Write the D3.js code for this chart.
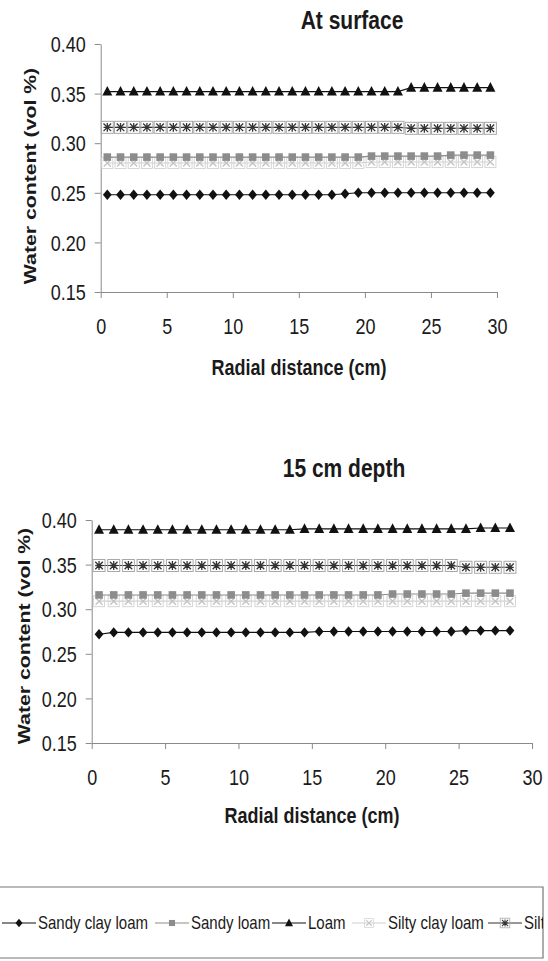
<!DOCTYPE html>
<html>
<head>
<meta charset="utf-8">
<script src="https://cdn.jsdelivr.net/npm/d3@7"></script>
<style>
  body { margin: 0; background: #fff; }
  svg { display: block; font-family: "Liberation Sans", Arial, sans-serif; }
</style>
</head>
<body>
<svg id="chart" width="548" height="961"></svg>
<script>
// radial distances (cm) of the sampling points
const distTop = [0.5, 1.5, 2.5, 3.5, 4.5, 5.5, 6.5, 7.5, 8.5, 9.5, 10.5, 11.5, 12.5, 13.5, 14.5,
  15.5, 16.5, 17.5, 18.5, 19.5, 20.5, 21.5, 22.5, 23.5, 24.5, 25.5, 26.5, 27.5, 28.5, 29.5];
const distBottom = [0.5, 1.5, 2.5, 3.5, 4.5, 5.5, 6.5, 7.5, 8.5, 9.5, 10.5, 11.5, 12.5, 13.5, 14.5,
  15.5, 16.5, 17.5, 18.5, 19.5, 20.5, 21.5, 22.5, 23.5, 24.5, 25.5, 26.5, 27.5, 28.5];

const soils = ["Sandy clay loam", "Sandy loam", "Loam", "Silty clay loam", "Silt"];

// At surface
const sandyClayLoamTop = [0.248, 0.248, 0.248, 0.248, 0.248, 0.248, 0.248, 0.248, 0.248, 0.248, 0.248, 0.248, 0.248, 0.248, 0.248,
  0.248, 0.248, 0.248, 0.249, 0.250, 0.250, 0.250, 0.250, 0.250, 0.250, 0.250, 0.250, 0.250, 0.250, 0.250];
const sandyLoamTop = [0.286, 0.286, 0.286, 0.286, 0.286, 0.286, 0.286, 0.286, 0.286, 0.286, 0.286, 0.286, 0.286, 0.286, 0.286,
  0.286, 0.286, 0.286, 0.286, 0.286, 0.287, 0.287, 0.287, 0.287, 0.287, 0.287, 0.288, 0.288, 0.288, 0.288];
const loamTop = [0.352, 0.352, 0.352, 0.352, 0.352, 0.352, 0.352, 0.352, 0.352, 0.352, 0.352, 0.352, 0.352, 0.352, 0.352,
  0.352, 0.352, 0.352, 0.352, 0.352, 0.352, 0.352, 0.352, 0.356, 0.356, 0.356, 0.356, 0.356, 0.356, 0.356];
const siltyClayLoamTop = [0.280, 0.280, 0.280, 0.280, 0.280, 0.280, 0.280, 0.280, 0.280, 0.280, 0.280, 0.280, 0.280, 0.280, 0.280,
  0.280, 0.280, 0.280, 0.280, 0.280, 0.281, 0.281, 0.281, 0.281, 0.281, 0.281, 0.281, 0.281, 0.281, 0.281];
const siltTop = [0.316, 0.316, 0.316, 0.316, 0.316, 0.316, 0.316, 0.316, 0.316, 0.316, 0.316, 0.316, 0.316, 0.316, 0.316,
  0.316, 0.316, 0.316, 0.316, 0.316, 0.316, 0.316, 0.316, 0.315, 0.315, 0.315, 0.315, 0.315, 0.315, 0.315];

// 15 cm depth
const sandyClayLoamBottom = [0.272, 0.274, 0.274, 0.274, 0.274, 0.274, 0.274, 0.274, 0.274, 0.274, 0.274, 0.274, 0.274, 0.274, 0.274,
  0.275, 0.275, 0.275, 0.275, 0.275, 0.275, 0.275, 0.275, 0.275, 0.275, 0.276, 0.276, 0.276, 0.276];
const sandyLoamBottom = [0.316, 0.316, 0.316, 0.316, 0.316, 0.316, 0.316, 0.316, 0.316, 0.316, 0.316, 0.316, 0.316, 0.316, 0.316,
  0.316, 0.316, 0.316, 0.316, 0.316, 0.317, 0.317, 0.317, 0.317, 0.317, 0.318, 0.318, 0.318, 0.318];
const loamBottom = [0.389, 0.389, 0.389, 0.389, 0.389, 0.389, 0.389, 0.389, 0.389, 0.389, 0.389, 0.389, 0.389, 0.389, 0.390,
  0.390, 0.390, 0.390, 0.390, 0.390, 0.390, 0.390, 0.390, 0.390, 0.390, 0.390, 0.391, 0.391, 0.391];
const siltyClayLoamBottom = [0.309, 0.309, 0.309, 0.309, 0.309, 0.309, 0.309, 0.309, 0.309, 0.309, 0.309, 0.309, 0.309, 0.309, 0.309,
  0.309, 0.309, 0.309, 0.309, 0.309, 0.309, 0.309, 0.309, 0.309, 0.309, 0.309, 0.309, 0.309, 0.309];
const siltBottom = [0.349, 0.349, 0.349, 0.349, 0.349, 0.349, 0.349, 0.349, 0.349, 0.349, 0.349, 0.349, 0.349, 0.349, 0.349,
  0.349, 0.349, 0.349, 0.349, 0.349, 0.349, 0.349, 0.349, 0.349, 0.349, 0.347, 0.347, 0.347, 0.347];

const xTicks = [0, 5, 10, 15, 20, 25, 30];
const yTicks = [0.15, 0.20, 0.25, 0.30, 0.35, 0.40];

const S = 1.25; // the scanned figure is stretched vertically, text too
const svg = d3.select("#chart");

// marker painters, one per soil
const markers = {
  "Sandy clay loam": g => g.append("path").attr("d", "M0,-5.2L4.4,0L0,5.2L-4.4,0Z").attr("fill", "#111"),
  "Sandy loam": g => g.append("rect").attr("x", -3.8).attr("y", -3.8).attr("width", 7.6).attr("height", 7.6).attr("fill", "#8c8c8c"),
  "Loam": g => g.append("path").attr("d", "M0,-5.6L5,4L-5,4Z").attr("fill", "#111"),
  "Silty clay loam": g => {
    g.append("rect").attr("x", -5.5).attr("y", -5.5).attr("width", 11).attr("height", 11)
      .attr("fill", "none").attr("stroke", "#d6d6d6").attr("stroke-width", 1);
    g.append("path").attr("d", "M-3.5,-3.5L3.5,3.5M3.5,-3.5L-3.5,3.5").attr("stroke", "#c4c4c4").attr("stroke-width", 1.4);
  },
  "Silt": g => {
    g.append("rect").attr("x", -6).attr("y", -6).attr("width", 12).attr("height", 12)
      .attr("fill", "none").attr("stroke", "#a8a8a8").attr("stroke-width", 1);
    g.append("path").attr("d", "M-3.8,-3.8L3.8,3.8M3.8,-3.8L-3.8,3.8M0,-4.4L0,4.4M-3.8,0L3.8,0")
      .attr("stroke", "#333").attr("stroke-width", 1.3);
  }
};
const lineColor = {
  "Sandy clay loam": "#111", "Sandy loam": "#8c8c8c", "Loam": "#111",
  "Silty clay loam": "#d0d0d0", "Silt": "#333"
};
const drawOrder = ["Silty clay loam", "Sandy loam", "Silt", "Loam", "Sandy clay loam"];

function stretchedText(g, txt, x, y, size, weight, rotate) {
  return g.append("text")
    .attr("transform", `translate(${x},${y}) scale(1,${S})${rotate ? " rotate(-90)" : ""}`)
    .attr("text-anchor", "middle")
    .attr("dominant-baseline", "central")
    .attr("font-size", size)
    .attr("font-weight", weight)
    .attr("fill", "#1a1a1a")
    .text(txt);
}

function panel(cfg) {
  const x = d3.scaleLinear().domain([0, 30]).range(cfg.xRange);
  const y = d3.scaleLinear().domain([0.15, 0.40]).range(cfg.yRange);
  const g = svg.append("g");

  const yAxis = g.append("g")
    .attr("transform", `translate(${cfg.xRange[0]},0)`)
    .call(d3.axisLeft(y).tickValues(yTicks).tickFormat(d3.format(".2f")).tickSize(6).tickSizeOuter(0).tickPadding(9));
  const xAxis = g.append("g")
    .attr("transform", `translate(0,${cfg.yRange[0]})`)
    .call(d3.axisBottom(x).tickValues(xTicks).tickSize(6).tickSizeOuter(0));

  [xAxis, yAxis].forEach(a => {
    a.select(".domain").attr("stroke", "#8a8a8a");
    a.selectAll(".tick line").attr("stroke", "#8a8a8a");
    a.selectAll(".tick text").attr("font-size", 18).attr("fill", "#1a1a1a")
      .attr("font-family", "'Liberation Sans', Arial, sans-serif");
  });
  yAxis.selectAll(".tick text").attr("dy", null).attr("dominant-baseline", "central")
    .attr("transform", `scale(1,${S})`);
  xAxis.selectAll(".tick text").attr("dy", null).attr("y", 34 / S).attr("dominant-baseline", "central")
    .attr("transform", `scale(1,${S})`);

  const line = d3.line().x(d => x(d[0])).y(d => y(d[1]));
  drawOrder.forEach(name => {
    const pts = cfg.dist.map((d, i) => [d, cfg.series[name][i]]);
    g.append("path").datum(pts).attr("d", line)
      .attr("fill", "none").attr("stroke", lineColor[name]).attr("stroke-width", 1.1);
    g.selectAll(null).data(pts).enter().append("g")
      .attr("transform", d => `translate(${x(d[0])},${y(d[1])})`)
      .each(function () { markers[name](d3.select(this)); });
  });

  stretchedText(g, cfg.title, cfg.titlePos[0], cfg.titlePos[1], 21, "bold");
  stretchedText(g, "Radial distance (cm)", cfg.xLabelPos[0], cfg.xLabelPos[1], 18, "bold");
  stretchedText(g, "Water content (vol %)", cfg.yLabelPos[0], cfg.yLabelPos[1], 17, "bold", true);
}

panel({
  title: "At surface", dist: distTop,
  series: { "Sandy clay loam": sandyClayLoamTop, "Sandy loam": sandyLoamTop, "Loam": loamTop,
    "Silty clay loam": siltyClayLoamTop, "Silt": siltTop },
  xRange: [100.7, 497], yRange: [292, 44],
  titlePos: [352, 20], xLabelPos: [299, 367], yLabelPos: [30, 176]
});

panel({
  title: "15 cm depth", dist: distBottom,
  series: { "Sandy clay loam": sandyClayLoamBottom, "Sandy loam": sandyLoamBottom, "Loam": loamBottom,
    "Silty clay loam": siltyClayLoamBottom, "Silt": siltBottom },
  xRange: [91.7, 532], yRange: [743, 520],
  titlePos: [344, 468], xLabelPos: [312, 815], yLabelPos: [24, 636]
});

// legend, clipped on the right like the original
svg.append("clipPath").attr("id", "legclip")
  .append("rect").attr("x", 0).attr("y", 886).attr("width", 543).attr("height", 72);
const leg = svg.append("g");
leg.append("path").attr("d", "M0,887H543V958H0").attr("fill", "none").attr("stroke", "#777").attr("stroke-width", 1.2);
const legItems = leg.append("g").attr("clip-path", "url(#legclip)");
const legX = [2, 155, 272, 352, 488];
const legY = 923;
soils.forEach((name, i) => {
  const g = legItems.append("g").attr("transform", `translate(${legX[i]},${legY})`);
  g.append("line").attr("x1", 0).attr("x2", 34).attr("stroke", lineColor[name]).attr("stroke-width", 1.1);
  markers[name](g.append("g").attr("transform", "translate(17,0) scale(0.8)"));
  g.append("text").attr("x", 36).attr("transform", `scale(1,${S})`)
    .attr("y", 0).attr("dominant-baseline", "central").attr("font-size", 15).attr("fill", "#1a1a1a")
    .text(name);
});
</script>
</body>
</html>
